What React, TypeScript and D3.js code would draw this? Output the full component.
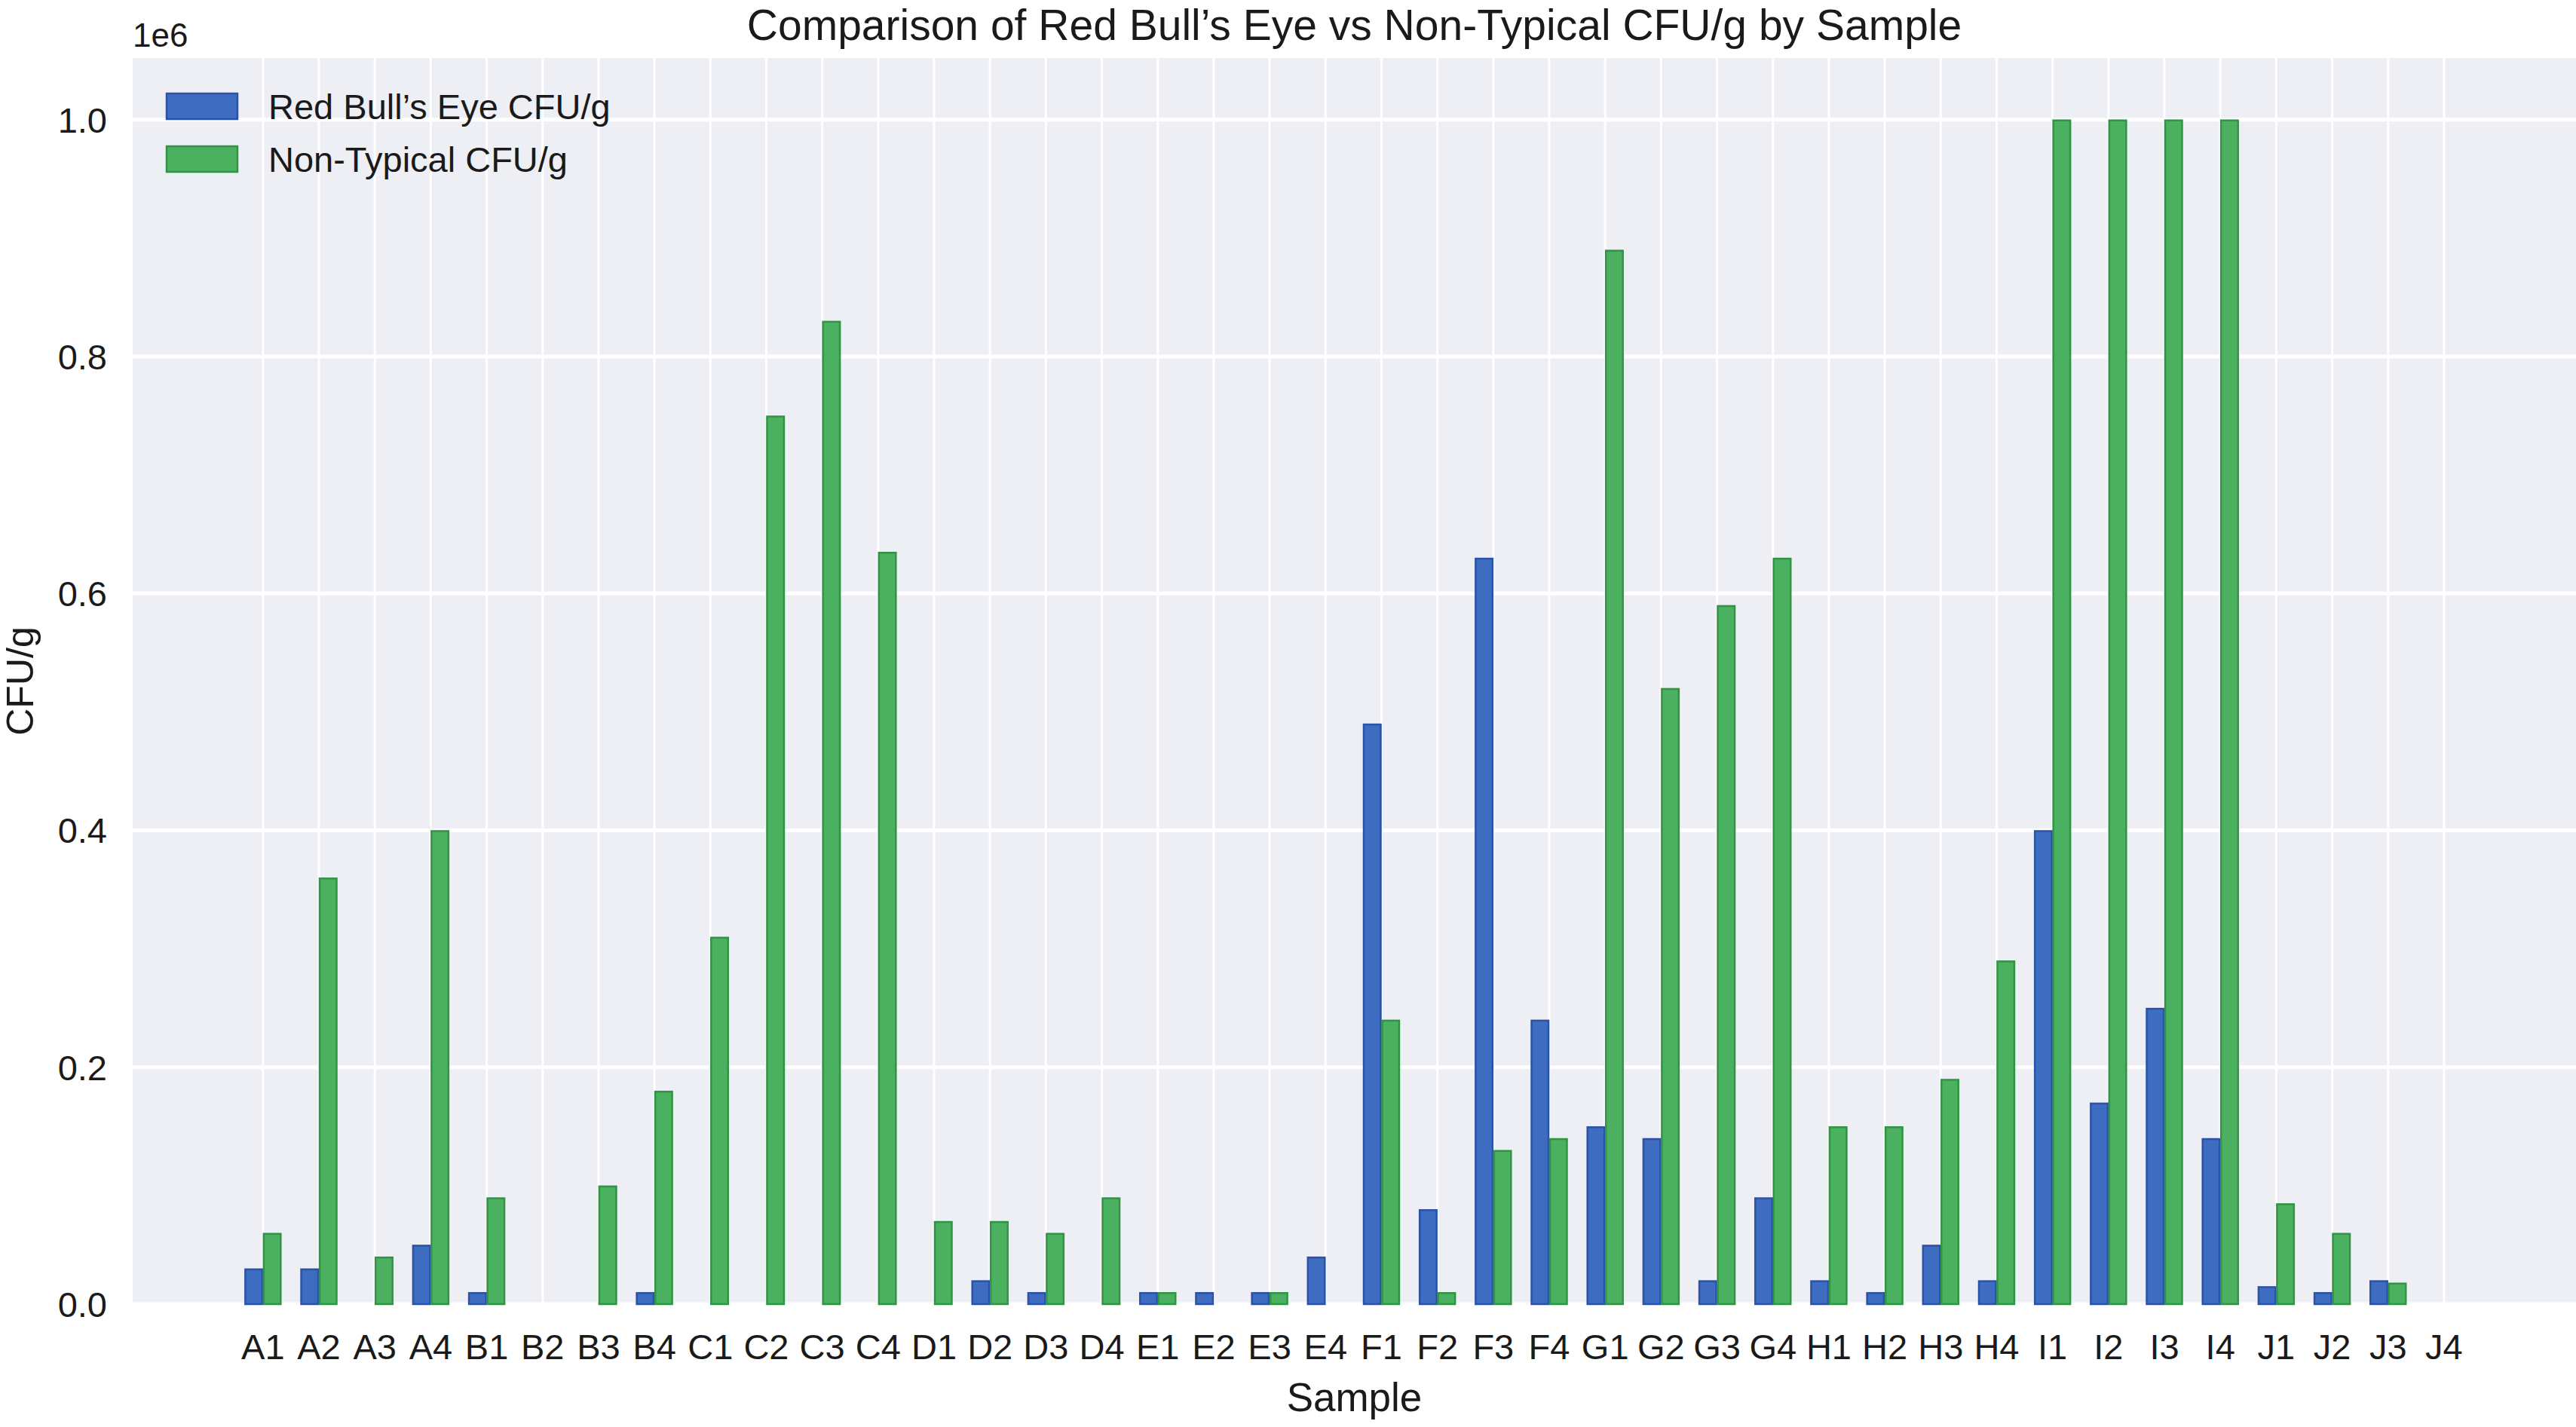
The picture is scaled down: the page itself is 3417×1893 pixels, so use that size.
import { useEffect, useRef } from "react";
import * as d3 from "d3";

// Samples A1..J4 and the two CFU/g series (values in units of 1e6)
const samples = [
  "A1", "A2", "A3", "A4", "B1", "B2", "B3", "B4", "C1", "C2",
  "C3", "C4", "D1", "D2", "D3", "D4", "E1", "E2", "E3", "E4",
  "F1", "F2", "F3", "F4", "G1", "G2", "G3", "G4", "H1", "H2",
  "H3", "H4", "I1", "I2", "I3", "I4", "J1", "J2", "J3", "J4",
];

const redBullsEye = [
  0.03, 0.03, 0, 0.05, 0.01, 0, 0, 0.01, 0, 0,
  0, 0, 0, 0.02, 0.01, 0, 0.01, 0.01, 0.01, 0.04,
  0.49, 0.08, 0.63, 0.24, 0.15, 0.14, 0.02, 0.09, 0.02, 0.01,
  0.05, 0.02, 0.4, 0.17, 0.25, 0.14, 0.015, 0.01, 0.02, 0,
];

const nonTypical = [
  0.06, 0.36, 0.04, 0.4, 0.09, 0, 0.1, 0.18, 0.31, 0.75,
  0.83, 0.635, 0.07, 0.07, 0.06, 0.09, 0.01, 0, 0.01, 0,
  0.24, 0.01, 0.13, 0.14, 0.89, 0.52, 0.59, 0.63, 0.15, 0.15,
  0.19, 0.29, 1.0, 1.0, 1.0, 1.0, 0.085, 0.06, 0.018, 0,
];

const yTicks = [0, 0.2, 0.4, 0.6, 0.8, 1.0];
const seriesNames = ["Red Bull\u2019s Eye CFU/g", "Non-Typical CFU/g"];

const WIDTH = 3417;
const HEIGHT = 1893;
const plot = { left: 176, right: 3417, top: 77, bottom: 1730 };
const BAR_W = 0.33; // in category units

const COLORS = {
  bg: "#EEEEF5",
  grid: "#ffffff",
  text: "#1a1a1a",
  blue: "#3E6CC0",
  blueEdge: "#2A53A8",
  green: "#4BB05F",
  greenEdge: "#2F9545",
};
const FONT = "'Liberation Sans', Arial, Helvetica, sans-serif";

export default function App() {
  const svgRef = useRef<SVGSVGElement>(null);

  useEffect(() => {
    if (!svgRef.current) return;
    const svg = d3.select(svgRef.current);
    svg.selectAll("*").remove();

    const x = d3.scaleLinear().domain([-2.33, 41.36]).range([plot.left, plot.right]);
    const y = d3.scaleLinear().domain([0, 1.052]).range([plot.bottom, plot.top]);

    // background
    svg.append("rect")
      .attr("x", plot.left)
      .attr("y", plot.top)
      .attr("width", plot.right - plot.left)
      .attr("height", plot.bottom - plot.top)
      .attr("fill", COLORS.bg);

    // grid
    const grid = svg.append("g").attr("class", "grid");
    samples.forEach((_, i) => {
      grid.append("line")
        .attr("x1", x(i)).attr("x2", x(i))
        .attr("y1", plot.top).attr("y2", plot.bottom)
        .attr("stroke", COLORS.grid)
        .attr("stroke-width", 3);
    });
    yTicks.forEach((t) => {
      grid.append("line")
        .attr("x1", plot.left).attr("x2", plot.right)
        .attr("y1", y(t)).attr("y2", y(t))
        .attr("stroke", COLORS.grid)
        .attr("stroke-width", 5);
    });

    // bars
    const bars = svg.append("g").attr("class", "bars");
    const series = [
      { values: redBullsEye, offset: -BAR_W, fill: COLORS.blue, edge: COLORS.blueEdge },
      { values: nonTypical, offset: 0, fill: COLORS.green, edge: COLORS.greenEdge },
    ];
    series.forEach((s) => {
      s.values.forEach((v, i) => {
        if (v <= 0) return;
        const x0 = x(i + s.offset);
        const x1 = x(i + s.offset + BAR_W);
        bars.append("rect")
          .attr("x", x0 + 1)
          .attr("y", y(v) + 1)
          .attr("width", x1 - x0 - 2)
          .attr("height", y(0) - y(v) - 1)
          .attr("fill", s.fill)
          .attr("stroke", s.edge)
          .attr("stroke-width", 2.5);
      });
    });

    // x tick labels
    const xAxis = svg.append("g").attr("class", "x-axis");
    samples.forEach((name, i) => {
      xAxis.append("text")
        .attr("x", x(i))
        .attr("y", 1803)
        .attr("text-anchor", "middle")
        .attr("font-size", 47)
        .attr("font-family", FONT)
        .attr("fill", COLORS.text)
        .text(name);
    });

    // y tick labels
    const yAxis = svg.append("g").attr("class", "y-axis");
    yTicks.forEach((t) => {
      yAxis.append("text")
        .attr("x", 142)
        .attr("y", y(t))
        .attr("dy", "0.36em")
        .attr("text-anchor", "end")
        .attr("font-size", 47)
        .attr("font-family", FONT)
        .attr("fill", COLORS.text)
        .text(t.toFixed(1));
    });
    svg.append("text")
      .attr("x", plot.left)
      .attr("y", 62)
      .attr("font-size", 44)
      .attr("font-family", FONT)
      .attr("fill", COLORS.text)
      .text("1e6");

    // axis titles
    svg.append("text")
      .attr("x", (plot.left + plot.right) / 2)
      .attr("y", 1872)
      .attr("text-anchor", "middle")
      .attr("font-size", 53)
      .attr("font-family", FONT)
      .attr("fill", COLORS.text)
      .text("Sample");

    svg.append("text")
      .attr("transform", `translate(44, ${(plot.top + plot.bottom) / 2}) rotate(-90)`)
      .attr("text-anchor", "middle")
      .attr("font-size", 50)
      .attr("font-family", FONT)
      .attr("fill", COLORS.text)
      .text("CFU/g");

    // title
    svg.append("text")
      .attr("x", (plot.left + plot.right) / 2)
      .attr("y", 53)
      .attr("text-anchor", "middle")
      .attr("font-size", 57)
      .attr("font-family", FONT)
      .attr("fill", COLORS.text)
      .text("Comparison of Red Bull\u2019s Eye vs Non-Typical CFU/g by Sample");

    // legend
    const legend = svg.append("g").attr("class", "legend");
    const legendColors = [
      [COLORS.blue, COLORS.blueEdge],
      [COLORS.green, COLORS.greenEdge],
    ];
    seriesNames.forEach((name, i) => {
      const top = 124 + i * 70;
      legend.append("rect")
        .attr("x", 221)
        .attr("y", top)
        .attr("width", 94)
        .attr("height", 34)
        .attr("fill", legendColors[i][0])
        .attr("stroke", legendColors[i][1])
        .attr("stroke-width", 2.5);
      legend.append("text")
        .attr("x", 356)
        .attr("y", top + 17)
        .attr("dy", "0.36em")
        .attr("font-size", 47)
        .attr("font-family", FONT)
        .attr("fill", COLORS.text)
        .text(name);
    });
  }, []);

  return (
    <svg
      ref={svgRef}
      width={WIDTH}
      height={HEIGHT}
      viewBox={`0 0 ${WIDTH} ${HEIGHT}`}
      style={{ position: "absolute", left: 0, top: 0, background: "#ffffff" }}
    />
  );
}
